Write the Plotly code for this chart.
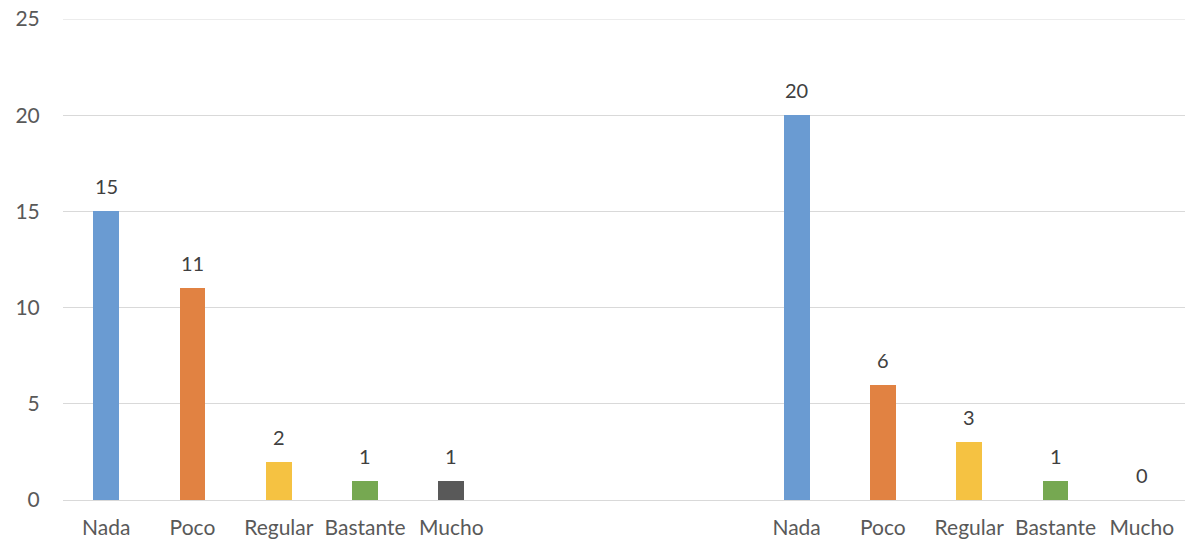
import plotly.graph_objects as go

categories = ["Nada", "Poco", "Regular", "Bastante", "Mucho"]
group1_values = [15, 11, 2, 1, 1]
group2_values = [20, 6, 3, 1, 0]
colors = ["#6A9BD2", "#E18242", "#F5C242", "#76A851", "#595959"]
y_ticks = [0, 5, 10, 15, 20, 25]

group1_pos = [0, 1, 2, 3, 4]
group2_pos = [8, 9, 10, 11, 12]

xs = group1_pos + group2_pos
ys = group1_values + group2_values

FONT = "Lato, Carlito, sans-serif"

fig = go.Figure()
fig.add_trace(go.Bar(
    x=xs,
    y=ys,
    marker=dict(color=colors + colors, line=dict(width=0)),
    width=0.30,
    showlegend=False,
    hoverinfo="x+y",
))

for x, y in zip(xs, ys):
    fig.add_annotation(
        x=x, y=y, text=str(y), showarrow=False,
        yanchor="bottom", yshift=11,
        font=dict(size=20, color="#404040", family=FONT),
    )

# top gridline (Plotly omits the grid line sitting on the plot edge)
fig.add_hline(y=y_ticks[-1], line=dict(color="#D9D9D9", width=1), layer="below")

fig.update_layout(
    width=1200, height=556,
    margin=dict(l=63, r=15, t=19, b=56),
    plot_bgcolor="white", paper_bgcolor="white",
    font=dict(family=FONT, size=20, color="#595959"),
    bargap=0,
)
fig.update_xaxes(
    range=[-0.5, 12.5],
    tickvals=xs,
    ticktext=categories + categories,
    showgrid=False, zeroline=False,
    showline=False, ticks="outside", ticklen=9, tickcolor="rgba(0,0,0,0)",
    tickfont=dict(size=21, color="#595959", family=FONT),
    automargin=False,
)
fig.update_yaxes(
    range=[0, 25],
    tickvals=y_ticks,
    showgrid=True, gridcolor="#D9D9D9", gridwidth=1,
    zeroline=True, zerolinecolor="#D9D9D9", zerolinewidth=1,
    showline=False, ticks="outside", ticklen=18, tickcolor="rgba(0,0,0,0)",
    tickfont=dict(size=21, color="#595959", family=FONT),
    ticklabeloverflow="allow",
    automargin=False,
)

fig.write_html(
    "out.html",
    config={"displayModeBar": False},
    post_script="document.body.style.margin='0';",
)
